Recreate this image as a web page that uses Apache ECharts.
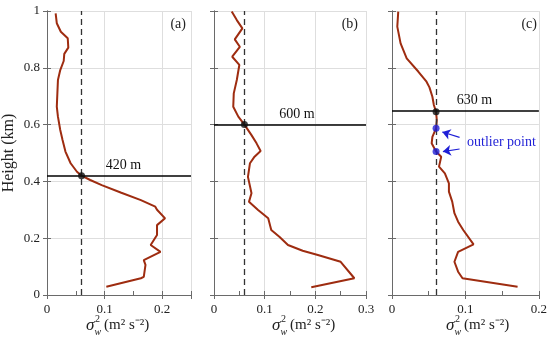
<!DOCTYPE html>
<html>
<head>
<meta charset="utf-8">
<script src="https://cdn.jsdelivr.net/npm/echarts@6/dist/echarts.min.js"></script>
<style>html,body{margin:0;padding:0;background:#fff}#c{width:550px;height:344px}</style>
</head>
<body>
<div id="c"></div>
<script>
// ---- data (sigma_w^2 in m^2 s^-2, height in km) ----
const panelLabels = ['(a)', '(b)', '(c)'];
const xMaxes = [0.25, 0.3, 0.2];
const heightTicks = [0, 0.2, 0.4, 0.6, 0.8, 1];
const thresholdX = 0.06;
const pblHeights = [0.42, 0.60, 0.645];
const pblLabels = ['420 m', '600 m', '630 m'];

const sigmaA = [0.015,0.017,0.024,0.036,0.037,0.030,0.029,0.023,0.019,0.018,0.017,0.019,0.023,0.027,0.032,0.041,0.052,0.060,0.075,0.095,0.129,0.163,0.188,0.191,0.205,0.191,0.191,0.188,0.180,0.197,0.168,0.171,0.168,0.163,0.103];
const heightA = [0.992,0.957,0.927,0.904,0.871,0.849,0.824,0.792,0.757,0.710,0.663,0.628,0.581,0.546,0.505,0.464,0.434,0.420,0.405,0.387,0.360,0.334,0.311,0.300,0.270,0.246,0.211,0.205,0.176,0.152,0.123,0.106,0.064,0.059,0.029];

const sigmaB = [0.035,0.045,0.056,0.041,0.051,0.036,0.050,0.045,0.039,0.038,0.048,0.060,0.074,0.084,0.092,0.080,0.071,0.067,0.074,0.069,0.087,0.107,0.113,0.129,0.146,0.175,0.205,0.250,0.277,0.192];
const heightB = [0.998,0.968,0.939,0.900,0.874,0.839,0.810,0.757,0.710,0.663,0.628,0.600,0.563,0.534,0.507,0.487,0.464,0.416,0.358,0.328,0.299,0.270,0.229,0.205,0.176,0.156,0.141,0.117,0.059,0.027];

const sigmaC = [0.0085,0.0072,0.0117,0.020,0.036,0.047,0.051,0.055,0.057,0.060,0.061,0.060,0.055,0.054,0.060,0.067,0.064,0.072,0.0775,0.0775,0.082,0.085,0.090,0.097,0.111,0.090,0.085,0.090,0.096,0.171];
const heightC = [0.998,0.945,0.886,0.833,0.786,0.751,0.731,0.698,0.669,0.645,0.616,0.587,0.557,0.534,0.505,0.487,0.452,0.428,0.393,0.364,0.329,0.288,0.258,0.229,0.178,0.152,0.117,0.082,0.059,0.029];

const outlierSigma = [0.06, 0.06];
const outlierHeight = [0.587, 0.505];
const arrowTails = [[0.092, 0.555], [0.092, 0.514]];
const arrowHeads = [[0.0685, 0.574], [0.0693, 0.505]];

// ---- chart ----
const sigmas = [sigmaA, sigmaB, sigmaC];
const heights = [heightA, heightB, heightC];
const FONT = '"Liberation Serif", "Times New Roman", serif';
const AXC = '#6a6a6a';
const LINEC = '#9e2c10';

const grids = [
  {left: 44, top: 11, width: 147, height: 284},
  {left: 214, top: 11, width: 152, height: 284},
  {left: 392, top: 11, width: 148, height: 284}
];
const labelPad = [9, 14, 18];
const titleX = [86, 272, 446];
const panelLabelRight = [186, 358, 537];

const xAxis = [], yAxis = [], series = [], graphic = [];
for (let i = 0; i < 3; i++) {
  xAxis.push({
    gridIndex: i, type: 'value', min: 0, max: xMaxes[i], interval: 0.05, position: 'bottom',
    axisLine: {show: true, lineStyle: {color: AXC, width: 1}},
    axisTick: {show: true, inside: true, length: 4, lineStyle: {color: AXC}},
    axisLabel: {
      color: '#222', fontSize: 13, fontFamily: FONT, margin: 8,
      formatter: v => { const k = Math.round(v * 100); return k % 10 === 0 ? (k === 0 ? '0' : (k / 100).toFixed(1)) : ''; }
    },
    splitLine: {show: false}
  });
  xAxis.push({
    gridIndex: i, type: 'value', min: 0, max: xMaxes[i], interval: 0.1, position: 'top',
    axisLine: {show: true, lineStyle: {color: AXC, width: 1}},
    axisTick: {show: true, inside: true, length: 4, lineStyle: {color: AXC}},
    axisLabel: {show: false},
    splitLine: {show: true, lineStyle: {color: '#dedede', width: 1}}
  });
  yAxis.push({
    gridIndex: i, type: 'value', min: 0, max: 1, interval: 0.2, position: 'left',
    name: i === 0 ? 'Height (km)' : '', nameLocation: 'middle', nameGap: 30,
    nameTextStyle: {color: '#222', fontSize: 16, fontFamily: FONT},
    axisLine: {show: true, lineStyle: {color: AXC, width: 1}},
    axisTick: {show: true, inside: true, length: 4, lineStyle: {color: AXC}},
    axisLabel: {show: i === 0, color: '#222', fontSize: 13, fontFamily: FONT, margin: 7},
    splitLine: {show: true, lineStyle: {color: '#dedede', width: 1}}
  });
  yAxis.push({
    gridIndex: i, type: 'value', min: 0, max: 1, interval: 0.2, position: 'right',
    axisLine: {show: true, lineStyle: {color: AXC, width: 1}},
    axisTick: {show: true, inside: true, length: 4, lineStyle: {color: AXC}},
    axisLabel: {show: false}, splitLine: {show: false}
  });

  series.push({
    type: 'line', xAxisIndex: 2 * i, yAxisIndex: 2 * i,
    data: sigmas[i].map((s, j) => [s, heights[i][j]]),
    showSymbol: false, symbol: 'none', smooth: false,
    lineStyle: {color: LINEC, width: 2}, z: 3,
    markLine: {
      silent: true, symbol: 'none', animation: false,
      data: [
        {xAxis: thresholdX, lineStyle: {color: '#333', type: [6, 4], width: 1.3}, label: {show: false}},
        {yAxis: pblHeights[i], lineStyle: {color: '#000', type: 'solid', width: 1.6},
         label: {show: true, formatter: pblLabels[i], position: 'insideMiddleTop', distance: 3,
                 color: '#111', fontSize: 14, fontFamily: FONT, padding: [0, 0, 0, labelPad[i]]}}
      ]
    }
  });
  series.push({
    type: 'scatter', xAxisIndex: 2 * i, yAxisIndex: 2 * i,
    data: [[thresholdX, pblHeights[i]]], symbolSize: 7,
    itemStyle: {color: '#111'}, z: 5, silent: true
  });

  graphic.push({type: 'text', right: 550 - panelLabelRight[i], top: 17,
    style: {text: panelLabels[i], font: '14px ' + FONT, fill: '#222'}});
  const x0 = titleX[i];
  graphic.push({type: 'text', left: x0, top: 317, style: {text: '\u03c3', font: 'italic 17px ' + FONT, fill: '#222'}});
  graphic.push({type: 'text', left: x0 + 9, top: 314, style: {text: '2', font: '10px ' + FONT, fill: '#222'}});
  graphic.push({type: 'text', left: x0 + 8.5, top: 327, style: {text: 'w', font: 'italic 10px ' + FONT, fill: '#222'}});
  graphic.push({type: 'text', left: x0 + 18, top: 318, style: {text: '(m\u00b2 s\u207b\u00b2)', font: '15px ' + FONT, fill: '#222'}});
}

series.push({
  type: 'scatter', xAxisIndex: 4, yAxisIndex: 4,
  data: outlierSigma.map((s, j) => [s, outlierHeight[j]]), symbolSize: 7,
  itemStyle: {color: '#1f1fd6'}, z: 6, silent: true,
  markLine: {
    silent: true, animation: false, symbol: ['none', 'arrow'], symbolSize: 8,
    lineStyle: {color: '#1f1fd6', type: 'solid', width: 1.2},
    label: {show: false},
    data: arrowTails.map((t, j) => [{coord: t}, {coord: arrowHeads[j]}])
  }
});
graphic.push({type: 'text', left: 467, top: 135, style: {text: 'outlier point', font: '14px ' + FONT, fill: '#1f1fd6'}});

const chart = echarts.init(document.getElementById('c'), null, {renderer: 'canvas'});
chart.setOption({animation: false, backgroundColor: '#fff', grid: grids, xAxis, yAxis, series, graphic});
</script>
</body>
</html>
